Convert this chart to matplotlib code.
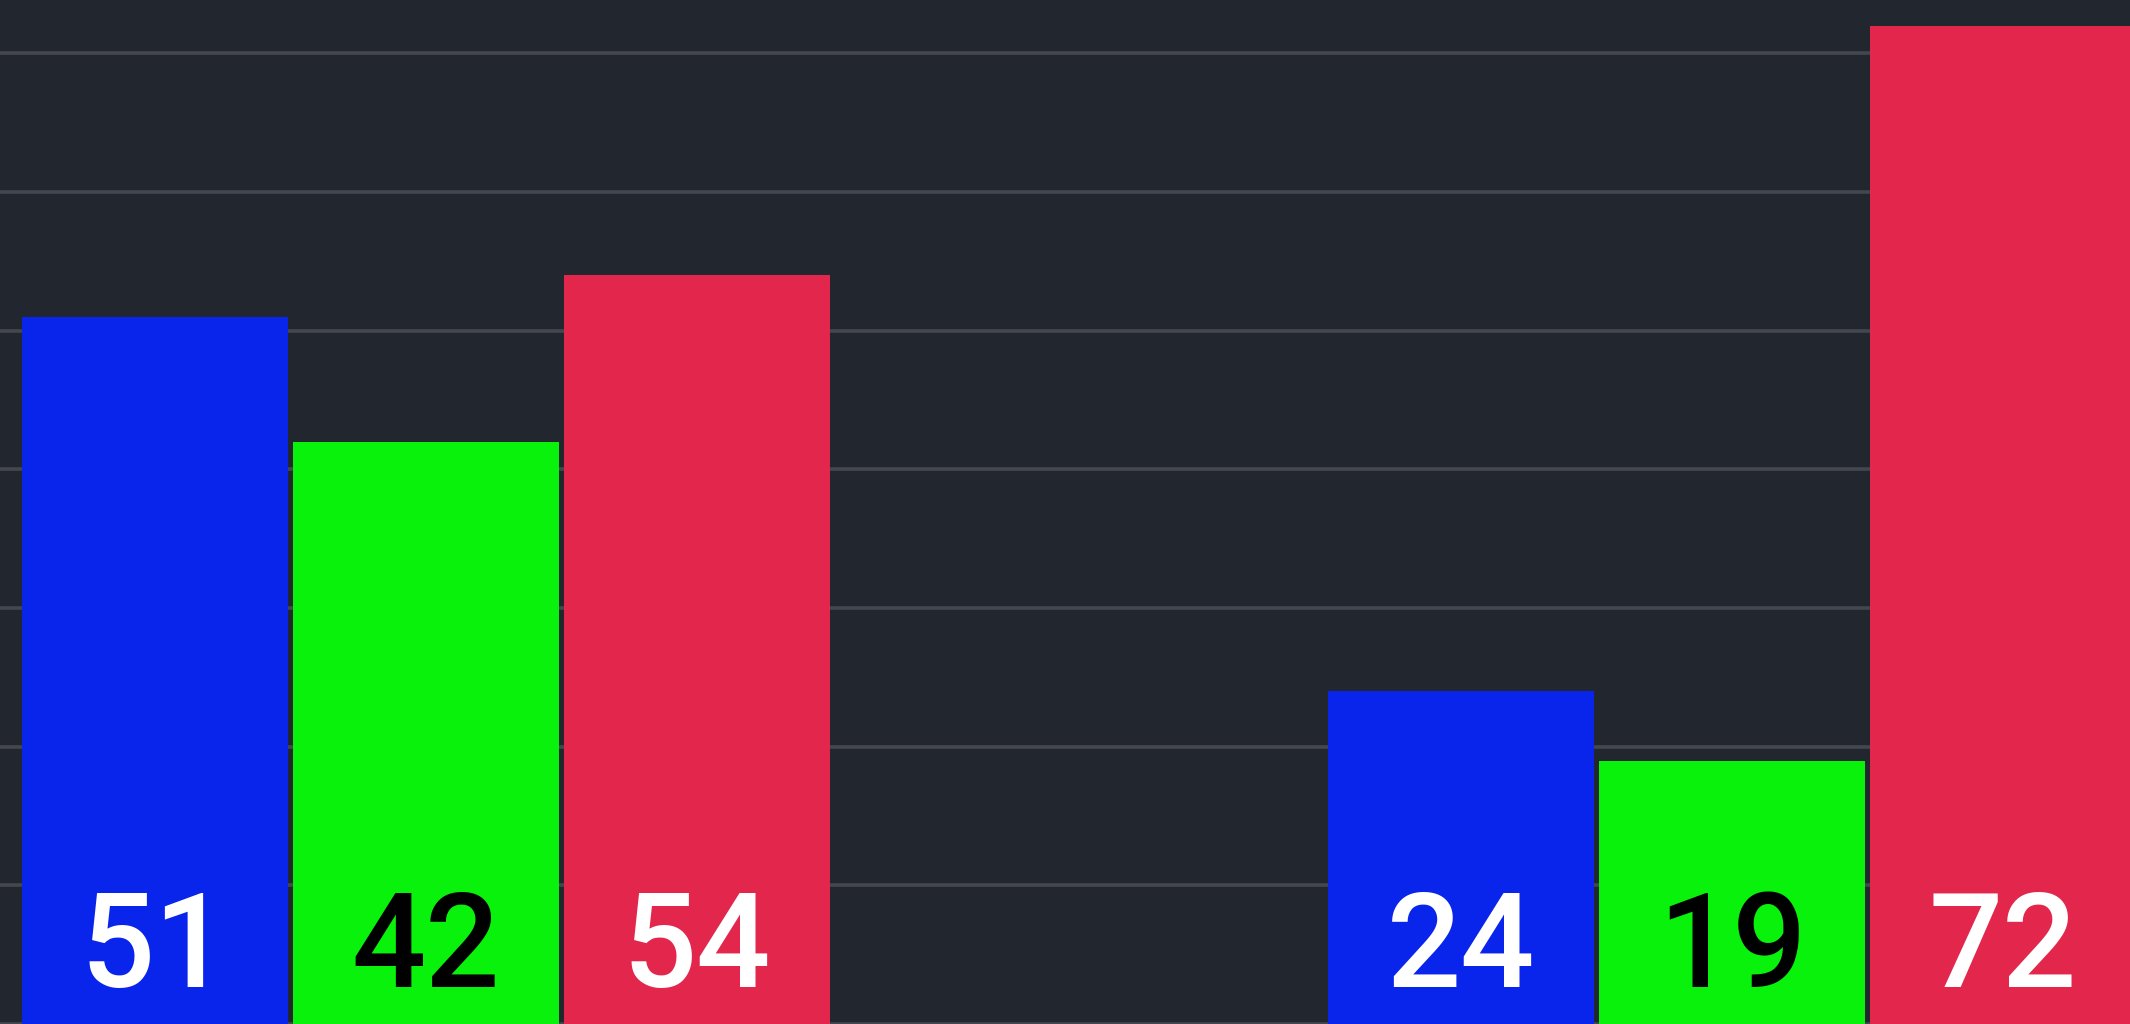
import numpy as np
import matplotlib
matplotlib.use("Agg")
import matplotlib.pyplot as plt

# data
groups = ["A", "B"]
series_names = ["blue", "green", "red"]
blue_vals = [51, 24]
green_vals = [42, 19]
red_vals = [54, 72]

colors = ["#0a25eb", "#08f20b", "#e3264c"]
text_colors = ["white", "black", "white"]
bg = "#22262f"

fig = plt.figure(figsize=(21.3, 10.24), dpi=100)
fig.patch.set_facecolor(bg)
ax = fig.add_axes([0, 0, 1, 1])
ax.set_facecolor(bg)

x = np.arange(len(groups))
width = 0.2037
step = 0.2075

for i, vals in enumerate([blue_vals, green_vals, red_vals]):
    pos = x + (i - 1) * step
    bars = ax.bar(pos, vals, width=width, color=colors[i], zorder=2)
    for b, v in zip(bars, vals):
        ax.text(b.get_x() + b.get_width() / 2, 2.7, str(v),
                ha="center", va="baseline", color=text_colors[i],
                fontsize=94, fontfamily="Roboto", fontweight="medium", zorder=3)

ax.set_xlim(-0.3262, 1.3047)
ax.set_ylim(0.43, 73.84)
ax.set_yticks(range(0, 80, 10))
ax.yaxis.grid(True, color="#45474f", linewidth=2.6, zorder=0)
ax.set_axisbelow(True)
ax.tick_params(left=False, bottom=False, labelleft=False, labelbottom=False)
for s in ax.spines.values():
    s.set_visible(False)

fig.savefig("out.png", dpi=100, facecolor=bg)
